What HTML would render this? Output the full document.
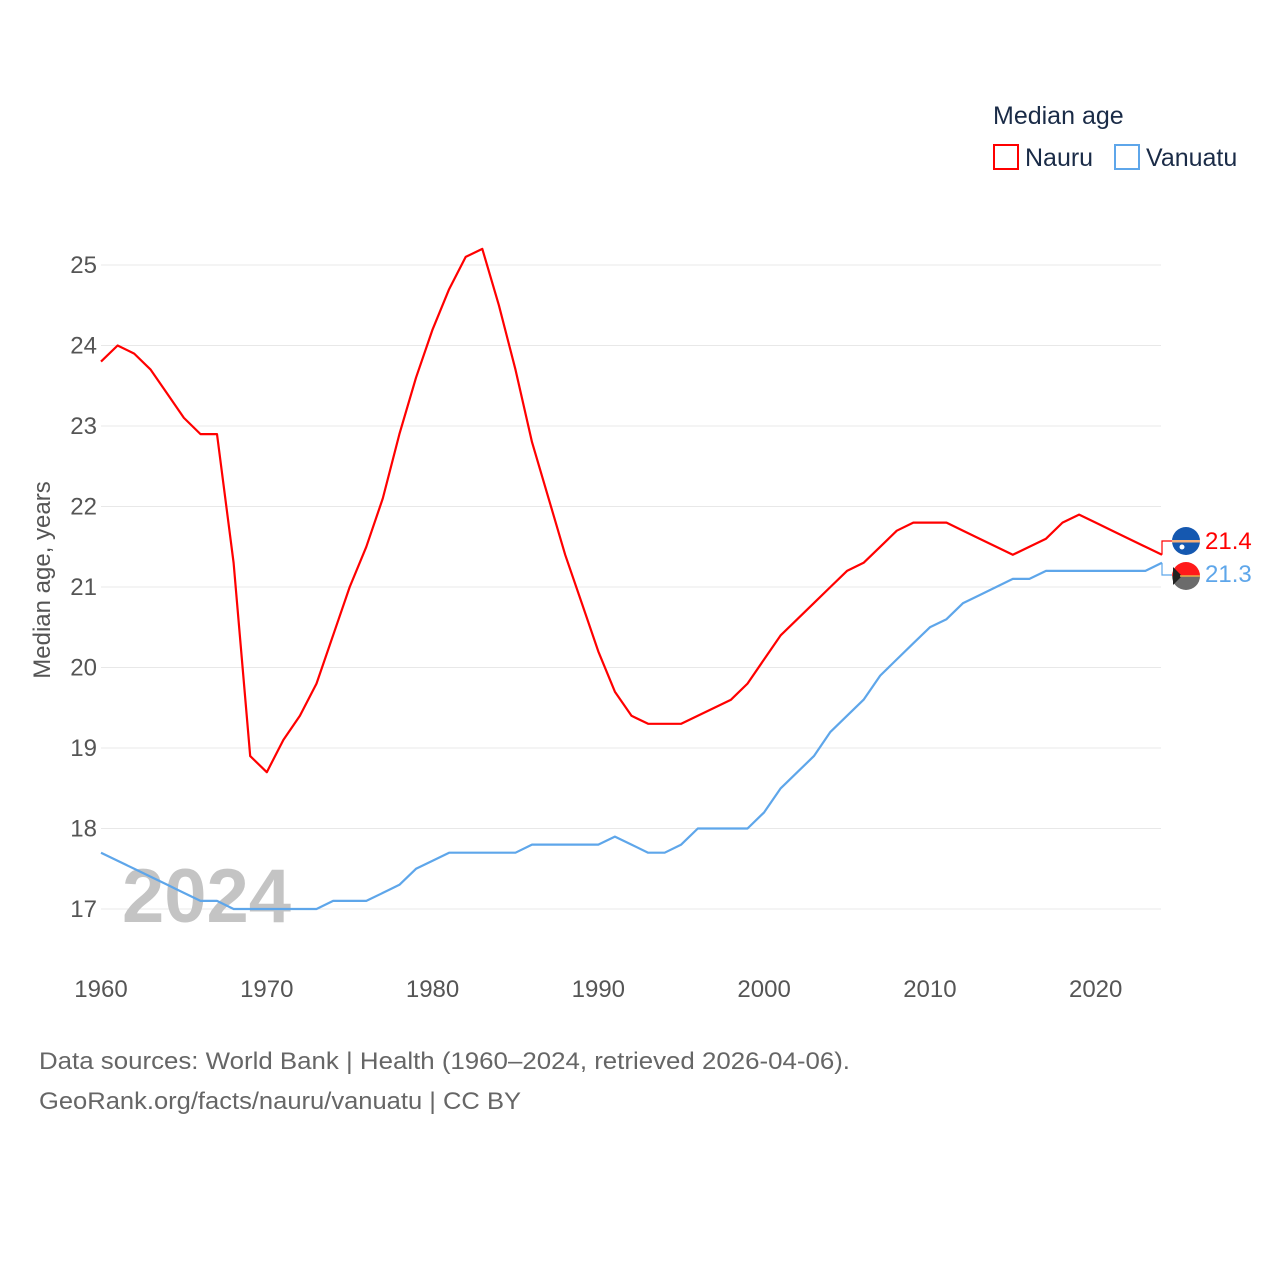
<!DOCTYPE html>
<html><head><meta charset="utf-8"><style>
html,body{margin:0;padding:0;background:#fff;}
body{width:1280px;height:1280px;overflow:hidden;font-family:"Liberation Sans",sans-serif;}
</style></head><body>
<svg id="chart" width="1280" height="1280" xmlns="http://www.w3.org/2000/svg" font-family="Liberation Sans, sans-serif">
<g id="grid"></g>
<g id="yticks"></g>
<g id="xticks"></g>
<text x="122" y="922" font-size="76" font-weight="bold" fill="#c4c4c4">2024</text>
<g id="lines"></g>
<text transform="translate(50,580) rotate(-90)" text-anchor="middle" font-size="24" fill="#555">Median age, years</text>
<g>
<text x="993" y="124" font-size="25" fill="#1a2b47">Median age</text>
<g>
<rect x="994" y="145" width="24" height="24" fill="none" stroke="#ff0000" stroke-width="2"/>
<text x="1025" y="166" font-size="25" fill="#1a2b47">Nauru</text></g>
<g>
<rect x="1115" y="145" width="24" height="24" fill="none" stroke="#5ea6ea" stroke-width="2"/>
<text x="1146" y="166" font-size="25" fill="#1a2b47">Vanuatu</text></g>
</g>
<g id="endlabels"></g>
<text x="39" y="1069" font-size="24" fill="#666" textLength="811" lengthAdjust="spacingAndGlyphs">Data sources: World Bank | Health (1960–2024, retrieved 2026-04-06).</text>
<text x="39" y="1109" font-size="24" fill="#666" textLength="482" lengthAdjust="spacingAndGlyphs">GeoRank.org/facts/nauru/vanuatu | CC BY</text>
</svg>
<script>
const years = [];
for (let y = 1960; y <= 2024; y++) years.push(y);
const nauru = [23.8,24.0,23.9,23.7,23.4,23.1,22.9,22.9,21.3,18.9,18.7,19.1,19.4,19.8,20.4,21.0,21.5,22.1,22.9,23.6,24.2,24.7,25.1,25.2,24.5,23.7,22.8,22.1,21.4,20.8,20.2,19.7,19.4,19.3,19.3,19.3,19.4,19.5,19.6,19.8,20.1,20.4,20.6,20.8,21.0,21.2,21.3,21.5,21.7,21.8,21.8,21.8,21.7,21.6,21.5,21.4,21.5,21.6,21.8,21.9,21.8,21.7,21.6,21.5,21.4];
const vanuatu = [17.7,17.6,17.5,17.4,17.3,17.2,17.1,17.1,17.0,17.0,17.0,17.0,17.0,17.0,17.1,17.1,17.1,17.2,17.3,17.5,17.6,17.7,17.7,17.7,17.7,17.7,17.8,17.8,17.8,17.8,17.8,17.9,17.8,17.7,17.7,17.8,18.0,18.0,18.0,18.0,18.2,18.5,18.7,18.9,19.2,19.4,19.6,19.9,20.1,20.3,20.5,20.6,20.8,20.9,21.0,21.1,21.1,21.2,21.2,21.2,21.2,21.2,21.2,21.2,21.3];
const yTicks = [17,18,19,20,21,22,23,24,25];
const xTicks = [1960,1970,1980,1990,2000,2010,2020];
const NS = 'http://www.w3.org/2000/svg';
const X = yr => 101 + (yr - 1960) * (1162 - 101) / 64;
const Y = v => 265 + (25 - v) * (909 - 265) / 8;
function mk(tag, attrs, parent){const e=document.createElementNS(NS,tag);for(const k in attrs)e.setAttribute(k,attrs[k]);parent.appendChild(e);return e;}
const grid=document.getElementById('grid'), yt=document.getElementById('yticks'), xt=document.getElementById('xticks');
yTicks.forEach(v=>{
  const l=mk('line',{x1:101,x2:1161,y1:Y(v),y2:Y(v),stroke:'#e8e8e8','stroke-width':1},grid);
  
  
  const t=mk('text',{x:97,y:Y(v)+8,'text-anchor':'end','font-size':24,fill:'#555'},yt);
  t.textContent=v;
  
  
});
xTicks.forEach(v=>{
  const t=mk('text',{x:X(v),y:997,'text-anchor':'middle','font-size':24,fill:'#555'},xt);
  t.textContent=v;
  
  
});
const lines=document.getElementById('lines');
function path(vals){return vals.map((v,i)=>(i?'L':'M')+X(years[i]).toFixed(1)+','+Y(v).toFixed(1)).join('');}
const pv=mk('path',{d:path(vanuatu),fill:'none',stroke:'#5ea6ea','stroke-width':2.2,'stroke-linejoin':'round'},lines);


const pn=mk('path',{d:path(nauru),fill:'none',stroke:'#ff0000','stroke-width':2.2,'stroke-linejoin':'round'},lines);


const el=document.getElementById('endlabels');
const nl=nauru[nauru.length-1], vl=vanuatu[vanuatu.length-1];
const xe=X(2024);
const c1=mk('path',{d:`M${xe},${Y(nl)}V541H1172`,fill:'none',stroke:'#ff0000','stroke-width':1.2},el);


const c2=mk('path',{d:`M${xe},${Y(vl)}V575H1172`,fill:'none',stroke:'#5ea6ea','stroke-width':1.2},el);


const f1=mk('g',{},el);


mk('circle',{cx:1186,cy:541,r:14,fill:'#1558b0'},f1);
mk('rect',{x:1172,y:540,width:28,height:2.5,fill:'#f7b07a'},f1);
mk('circle',{cx:1182,cy:547,r:2.5,fill:'#fff'},f1);
const f2=mk('g',{},el);


mk('path',{d:'M1172,576A14,14 0 0 1 1200,576Z',fill:'#ff1a1a'},f2);
mk('path',{d:'M1172,576A14,14 0 0 0 1200,576Z',fill:'#6b6b6b'},f2);
mk('path',{d:'M1173,567L1182,576L1173,585Z',fill:'#222'},f2);
mk('line',{x1:1180,y1:576,x2:1200,y2:576,stroke:'#e8b04a','stroke-width':1.5},f2);
const t1=mk('text',{x:1205,y:549,'font-size':24,fill:'#ff0000'},el);
t1.textContent=nl.toFixed(1);


const t2=mk('text',{x:1205,y:582,'font-size':24,fill:'#5ea6ea'},el);
t2.textContent=vl.toFixed(1);


</script>
</body></html>
